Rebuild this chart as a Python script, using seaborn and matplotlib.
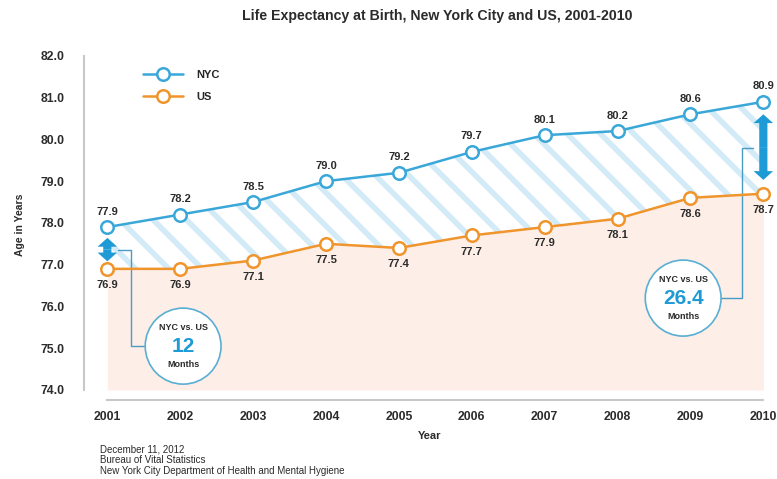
import matplotlib
matplotlib.use("Agg")
import matplotlib.pyplot as plt
from matplotlib.patches import Ellipse
import pandas as pd
import seaborn as sns

years = [2001, 2002, 2003, 2004, 2005, 2006, 2007, 2008, 2009, 2010]
nyc = [77.9, 78.2, 78.5, 79.0, 79.2, 79.7, 80.1, 80.2, 80.6, 80.9]
us = [76.9, 76.9, 77.1, 77.5, 77.4, 77.7, 77.9, 78.1, 78.6, 78.7]
y_ticks = [74.0, 75.0, 76.0, 77.0, 78.0, 79.0, 80.0, 81.0, 82.0]
gap_2001 = "12"
gap_2010 = "26.4"
footer = ["December 11, 2012", "Bureau of Vital Statistics",
          "New York City Department of Health and Mental Hygiene"]

BLUE = "#3aa7d9"
ORANGE = "#f0942c"
PINK = "#fdeee8"
DARK = "#2b2b2b"
ARROW = "#1e9ad6"

sns.set_style("white")
plt.rcParams['font.family'] = ['Liberation Sans', 'DejaVu Sans']
plt.rcParams['hatch.color'] = "#d3eaf7"
plt.rcParams['hatch.linewidth'] = 4.0

df = pd.DataFrame({"Year": years, "NYC": nyc, "US": us})

fig = plt.figure(figsize=(7.77, 4.79), dpi=100)
ax = fig.add_axes([84 / 777, 1 - 400 / 479, 691 / 777, 350 / 479])

# background areas
ax.fill_between(df["Year"], 74.0, df["US"], color=PINK, lw=0, zorder=0)
ax.fill_between(df["Year"], df["US"], df["NYC"], facecolor="white",
                edgecolor="#d3eaf7", hatch="\\", lw=0, zorder=0)

for col, c in [("NYC", BLUE), ("US", ORANGE)]:
    sns.lineplot(data=df, x="Year", y=col, ax=ax, color=c, lw=1.8, marker="o",
                 markersize=9, markerfacecolor="white", markeredgecolor=c,
                 markeredgewidth=1.8, label=col, zorder=3)

for x, a, b in zip(years, nyc, us):
    ax.annotate(f"{a:.1f}", (x, a), xytext=(0, 7.5), textcoords="offset points",
                ha="center", va="bottom", fontsize=8, fontweight="bold", color=DARK)
    ax.annotate(f"{b:.1f}", (x, b), xytext=(0, -8), textcoords="offset points",
                ha="center", va="top", fontsize=8, fontweight="bold", color=DARK)


def double_arrow(x, y0, y1):
    mid = (y0 + y1) / 2
    style = "simple,head_length=0.45,head_width=1.0,tail_width=0.42"
    for end in (y0, y1):
        ax.annotate("", xy=(x, end), xytext=(x, mid),
                    arrowprops=dict(arrowstyle=style, color=ARROW, lw=0,
                                    mutation_scale=14, shrinkA=0, shrinkB=0),
                    zorder=4)


double_arrow(2001, 77.08, 77.64)
double_arrow(2010, 79.03, 80.6)

# callout connectors
ax.plot([2001.15, 2001.32, 2001.32, 2001.52], [77.35, 77.35, 75.05, 75.05],
        color="#4a9cc4", lw=1, zorder=2)
ax.plot([2009.86, 2009.71, 2009.71, 2009.42], [79.8, 79.8, 76.2, 76.2],
        color="#4a9cc4", lw=1, zorder=2)

for cx, cy, val in [(2002.04, 75.05, gap_2001), (2008.90, 76.2, gap_2010)]:
    ax.add_patch(Ellipse((cx, cy), 1.04, 1.82, facecolor="white",
                         edgecolor="#5aaed3", lw=1.2, zorder=5))
    ax.text(cx, cy + 0.45, "NYC vs. US", ha="center", va="center",
            fontsize=6.5, fontweight="bold", color=DARK, zorder=6)
    ax.text(cx, cy, val, ha="center", va="center",
            fontsize=15, fontweight="bold", color=ARROW, zorder=6)
    ax.text(cx, cy - 0.45, "Months", ha="center", va="center",
            fontsize=6.5, fontweight="bold", color=DARK, zorder=6)

ax.set_xlim(2000.68, 2010.16)
ax.set_ylim(73.76, 82.14)
ax.set_xticks(years)
ax.set_yticks(y_ticks)
ax.set_yticklabels([f"{v:.1f}" for v in y_ticks])
ax.spines["top"].set_visible(False)
ax.spines["right"].set_visible(False)
ax.spines["left"].set_bounds(74, 82)
ax.spines["bottom"].set_bounds(2001, 2010)
for s in ["left", "bottom"]:
    ax.spines[s].set_color("#c8c8c8")
    ax.spines[s].set_linewidth(1.5)
ax.tick_params(axis="both", length=6, width=1.2, color="#c8c8c8",
               labelsize=8.8, labelcolor=DARK, direction="out")
ax.tick_params(axis="y", pad=8)
ax.tick_params(axis="x", pad=2)
for lab in ax.get_xticklabels() + ax.get_yticklabels():
    lab.set_fontweight("bold")

ax.set_xlabel("Year", fontsize=8, fontweight="bold", color=DARK, labelpad=6)
ax.set_ylabel("Age in Years", fontsize=7.5, fontweight="bold", color=DARK, labelpad=11)

ax.legend(loc="upper left", bbox_to_anchor=(0.085, 0.942), frameon=False,
          borderpad=0, borderaxespad=0, handlelength=3.6, handletextpad=1.2,
          labelspacing=1.05, prop={"weight": "bold", "size": 8})

fig.text(437 / 777, 1 - 16 / 479, "Life Expectancy at Birth, New York City and US, 2001-2010",
         ha="center", va="center", fontsize=10.2, fontweight="bold", color=DARK)
for i, line in enumerate(footer):
    fig.text(100 / 777, 1 - (449 + 11 * i) / 479, line, ha="left", va="center",
             fontsize=7, color=DARK)

fig.savefig("out.png", dpi=100)
